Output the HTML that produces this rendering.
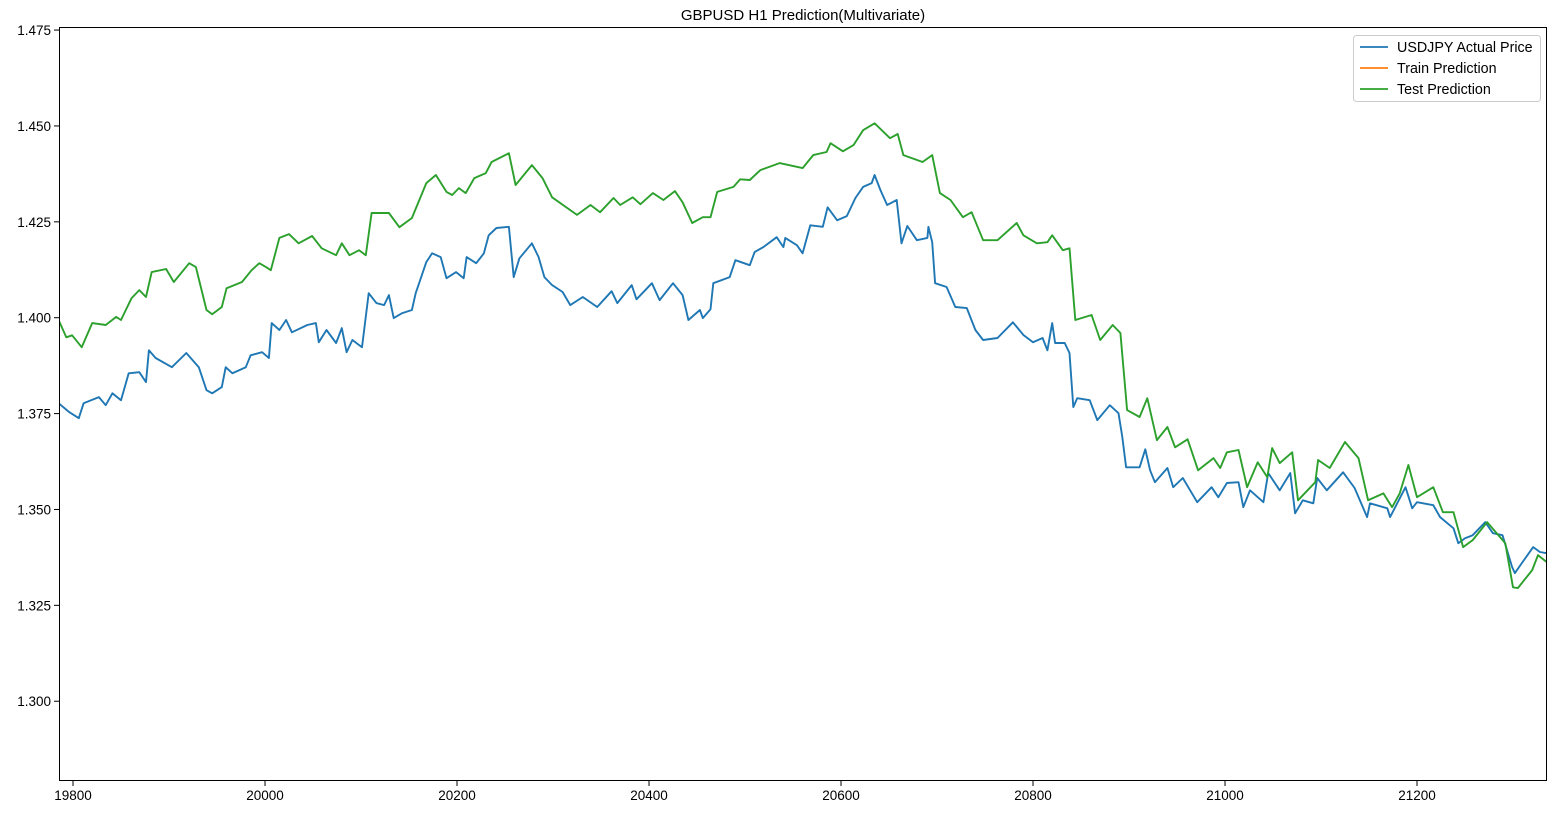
<!DOCTYPE html>
<html><head><meta charset="utf-8"><style>
html,body{margin:0;padding:0;background:#fff;}
svg{display:block;font-family:"Liberation Sans","DejaVu Sans",sans-serif;}
</style></head><body>
<svg id="chart" width="1558" height="814" viewBox="0 0 1558 814" xmlns="http://www.w3.org/2000/svg">
<text x="803" y="20" font-size="15" text-anchor="middle" fill="#000">GBPUSD H1 Prediction(Multivariate)</text>
<g id="plot"></g>
<g id="legend">
<rect x="1353.5" y="35.5" width="187" height="66" rx="3" fill="#fff" fill-opacity="0.8" stroke="#ccc"/>
<line x1="1360" y1="47" x2="1388" y2="47" stroke="#1f77b4" stroke-width="1.8"/>
<text x="1397" y="52" font-size="14.3">USDJPY Actual Price</text>
<line x1="1360" y1="68" x2="1388" y2="68" stroke="#ff7f0e" stroke-width="1.8"/>
<text x="1397" y="73" font-size="14.3">Train Prediction</text>
<line x1="1360" y1="89" x2="1388" y2="89" stroke="#2ca02c" stroke-width="1.8"/>
<text x="1397" y="94" font-size="14.3">Test Prediction</text>
</g>
</svg>
<script>
const xTicks=[19800,20000,20200,20400,20600,20800,21000,21200];
const yTicks=[1.300,1.325,1.350,1.375,1.400,1.425,1.450,1.475];
const yTickLabels=["1.300","1.325","1.350","1.375","1.400","1.425","1.450","1.475"];
const actualT=[19785,19796,19806,19811,19827,19834,19841,19850,19858,19869,19876,19879,19886,19903,19918,19931,19939,19945,19955,19959,19966,19980,19985,19997,20004,20007,20015,20022,20028,20044,20053,20056,20064,20074,20080,20085,20091,20101,20108,20116,20124,20129,20134,20143,20153,20157,20168,20174,20183,20189,20199,20207,20210,20220,20228,20233,20241,20254,20259,20265,20278,20285,20291,20299,20310,20318,20331,20346,20361,20367,20382,20387,20403,20411,20425,20435,20441,20453,20456,20464,20467,20484,20490,20505,20510,20519,20533,20540,20542,20554,20560,20568,20581,20586,20596,20606,20615,20623,20632,20635,20641,20648,20658,20663,20669,20679,20690,20691,20695,20698,20710,20719,20731,20740,20748,20763,20779,20790,20800,20810,20815,20820,20823,20833,20838,20842,20846,20859,20867,20880,20889,20893,20897,20911,20917,20922,20927,20940,20946,20956,20971,20986,20993,21002,21014,21019,21026,21040,21045,21057,21068,21073,21081,21092,21096,21106,21123,21135,21148,21151,21169,21172,21188,21195,21200,21217,21224,21238,21243,21250,21258,21271,21279,21289,21299,21302,21310,21321,21328,21335];
const actualV=[1.3777,1.3754,1.3738,1.3777,1.3793,1.3772,1.3803,1.3785,1.3855,1.3858,1.3832,1.3915,1.3895,1.3871,1.3908,1.3871,1.3811,1.3803,1.3819,1.3871,1.3855,1.3871,1.3902,1.3910,1.3895,1.3986,1.3968,1.3994,1.3962,1.3981,1.3986,1.3936,1.3968,1.3934,1.3973,1.3910,1.3942,1.3923,1.4064,1.4038,1.4033,1.4059,1.3999,1.4012,1.4020,1.4064,1.4145,1.4168,1.4158,1.4103,1.4119,1.4103,1.4158,1.4142,1.4168,1.4215,1.4234,1.4237,1.4106,1.4155,1.4194,1.4158,1.4106,1.4085,1.4067,1.4033,1.4054,1.4028,1.4069,1.4038,1.4085,1.4048,1.4090,1.4046,1.4090,1.4059,1.3994,1.4020,1.3999,1.4022,1.4090,1.4106,1.4150,1.4137,1.4171,1.4184,1.4210,1.4184,1.4208,1.4189,1.4168,1.4241,1.4237,1.4288,1.4254,1.4265,1.4312,1.4341,1.4351,1.4372,1.4333,1.4294,1.4307,1.4194,1.4239,1.4202,1.4208,1.4237,1.4197,1.4090,1.4080,1.4028,1.4025,1.3968,1.3942,1.3947,1.3988,1.3955,1.3936,1.3947,1.3915,1.3986,1.3934,1.3934,1.3908,1.3767,1.3790,1.3785,1.3733,1.3772,1.3751,1.3689,1.3610,1.3610,1.3657,1.3602,1.3571,1.3608,1.3558,1.3582,1.3519,1.3558,1.3532,1.3569,1.3571,1.3506,1.3550,1.3519,1.3595,1.3550,1.3595,1.3490,1.3524,1.3516,1.3582,1.3550,1.3597,1.3556,1.3480,1.3516,1.3503,1.3480,1.3558,1.3503,1.3519,1.3511,1.3480,1.3451,1.3412,1.3425,1.3433,1.3467,1.3438,1.3433,1.3350,1.3334,1.3363,1.3402,1.3389,1.3386];
const testT=[19785,19793,19799,19809,19820,19834,19845,19850,19855,19861,19869,19876,19882,19897,19905,19921,19928,19939,19945,19955,19960,19976,19986,19994,20001,20006,20015,20025,20035,20049,20059,20074,20080,20088,20098,20105,20111,20129,20140,20153,20168,20178,20189,20195,20202,20209,20218,20230,20236,20254,20261,20278,20289,20299,20325,20339,20349,20363,20370,20383,20391,20404,20415,20427,20435,20445,20456,20464,20471,20488,20495,20505,20516,20536,20560,20571,20585,20589,20602,20613,20623,20635,20651,20659,20665,20685,20695,20703,20714,20727,20736,20748,20763,20783,20790,20804,20815,20820,20831,20838,20844,20861,20870,20883,20891,20898,20911,20919,20929,20940,20948,20961,20972,20988,20995,21002,21014,21023,21034,21044,21049,21057,21070,21076,21094,21097,21109,21125,21139,21149,21165,21174,21182,21191,21200,21217,21227,21238,21248,21258,21273,21283,21292,21300,21305,21320,21326,21335];
const testV=[1.3994,1.3949,1.3954,1.3923,1.3986,1.3981,1.4002,1.3994,1.4020,1.4051,1.4072,1.4054,1.4119,1.4127,1.4093,1.4142,1.4132,1.4020,1.4009,1.4028,1.4077,1.4093,1.4124,1.4142,1.4132,1.4124,1.4208,1.4218,1.4194,1.4213,1.4181,1.4163,1.4194,1.4163,1.4176,1.4163,1.4273,1.4273,1.4236,1.4260,1.4351,1.4372,1.4328,1.4320,1.4338,1.4325,1.4364,1.4377,1.4406,1.4429,1.4346,1.4398,1.4364,1.4314,1.4268,1.4294,1.4275,1.4312,1.4294,1.4314,1.4296,1.4325,1.4307,1.4330,1.4301,1.4247,1.4262,1.4262,1.4328,1.4341,1.4361,1.4359,1.4385,1.4403,1.4390,1.4424,1.4432,1.4455,1.4434,1.4450,1.4489,1.4507,1.4468,1.4479,1.4424,1.4406,1.4424,1.4325,1.4307,1.4262,1.4275,1.4202,1.4202,1.4247,1.4215,1.4194,1.4197,1.4215,1.4176,1.4181,1.3994,1.4007,1.3942,1.3981,1.3960,1.3759,1.3741,1.3790,1.3681,1.3715,1.3662,1.3683,1.3602,1.3634,1.3608,1.3649,1.3655,1.3558,1.3623,1.3584,1.3660,1.3621,1.3649,1.3524,1.3571,1.3629,1.3608,1.3676,1.3634,1.3524,1.3542,1.3506,1.3542,1.3616,1.3532,1.3558,1.3493,1.3493,1.3402,1.3420,1.3467,1.3438,1.3412,1.3297,1.3295,1.3342,1.3381,1.3363];

const L=59,R=1547,T=27,B=781;
const xMin=19785.4,xMax=21335.4,yMin=1.2792,yMax=1.4758;
function xs(t){return L+(t-xMin)/(xMax-xMin)*(R-L);}
function ys(v){return B-(v-yMin)/(yMax-yMin)*(B-T);}
const NS="http://www.w3.org/2000/svg";
const plot=document.getElementById('plot');
function mk(tag,attrs,parent){const e=document.createElementNS(NS,tag);for(const k in attrs)e.setAttribute(k,attrs[k]);(parent||plot).appendChild(e);return e;}

const clip=mk('clipPath',{id:'clipP'});
mk('rect',{x:L,y:T,width:R-L,height:B-T},clip);
const g=mk('g',{'clip-path':'url(#clipP)'});


function seriesIn(T_,V_,color,name){
  let d='';
  for(let i=0;i<T_.length;i++){d+=(i?'L':'M')+xs(T_[i]).toFixed(1)+','+ys(V_[i]).toFixed(1);}
  const p=mk('path',{d:d,fill:'none',stroke:color,'stroke-width':'1.9','stroke-linejoin':'round'},g);
  
  
}
seriesIn(actualT,actualV,'#1f77b4','actual-price-line');
seriesIn(testT,testV,'#2ca02c','test-prediction-line');

const frame=mk('rect',{x:L+0.5,y:T+0.5,width:R-L-1,height:B-T-1,fill:'none',stroke:'#000','stroke-width':'1'});



xTicks.forEach(t=>{
  const x=xs(t);
  const tk=mk('line',{x1:x,y1:B,x2:x,y2:B+5,stroke:'#000'});
  
  
  const tx=mk('text',{x:x,y:B+19,'font-size':'13.5','text-anchor':'middle'});
  tx.textContent=String(t);
  
  
});
yTicks.forEach((v,i)=>{
  const y=ys(v);
  const tk=mk('line',{x1:L-5,y1:y,x2:L,y2:y,stroke:'#000'});
  
  
  const tx=mk('text',{x:L-8,y:y+5,'font-size':'13.5','text-anchor':'end'});
  tx.textContent=yTickLabels[i];
  
  
});
</script>
</body></html>
